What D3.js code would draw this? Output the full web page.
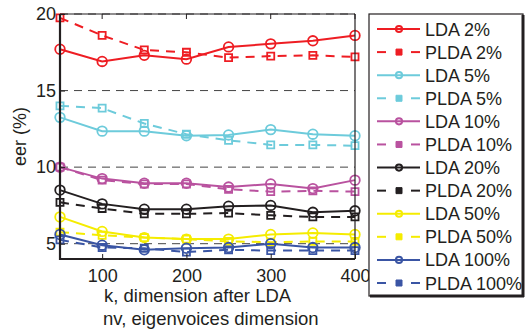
<!DOCTYPE html>
<html>
<head>
<meta charset="utf-8">
<script src="https://cdn.jsdelivr.net/npm/d3@7/dist/d3.min.js"></script>
<style>
  body { margin: 0; background: #fff; }
  svg text { font-family: "Liberation Sans", Arial, sans-serif; fill: #231f20; }
</style>
</head>
<body>
<svg id="chart" width="526" height="329"></svg>
<script>
// x values (k / nv)
const dims = [50, 100, 150, 200, 250, 300, 350, 400];

// eer (%) per series
const lda2 = [17.7, 16.9, 17.3, 17.05, 17.85, 18.05, 18.25, 18.6];
const plda2 = [19.75, 18.6, 17.65, 17.5, 17.15, 17.25, 17.3, 17.2];
const lda5 = [13.25, 12.35, 12.35, 12.05, 12.1, 12.45, 12.15, 12.05];
const plda5 = [14.0, 13.85, 12.85, 12.15, 11.75, 11.45, 11.45, 11.4];
const lda10 = [10.0, 9.25, 8.95, 8.95, 8.7, 8.9, 8.6, 9.15];
const plda10 = [10.0, 9.15, 8.9, 8.9, 8.55, 8.4, 8.45, 8.4];
const lda20 = [8.5, 7.6, 7.25, 7.25, 7.45, 7.5, 7.05, 7.15];
const plda20 = [7.7, 7.3, 6.95, 6.95, 7.0, 6.85, 6.75, 6.75];
const lda50 = [6.75, 5.8, 5.4, 5.3, 5.3, 5.6, 5.7, 5.6];
const plda50 = [5.75, 5.55, 5.4, 5.3, 5.15, 5.1, 5.15, 5.15];
const lda100 = [5.6, 4.9, 4.6, 4.7, 4.75, 5.0, 4.75, 4.75];
const plda100 = [5.25, 4.75, 4.7, 4.45, 4.6, 4.55, 4.55, 4.55];

const xTicks = [100, 200, 300, 400];
const yTicks = [5, 10, 15, 20];

const series = [
  { name: 'LDA 2%', values: lda2, color: '#ee1d23', dashed: false },
  { name: 'PLDA 2%', values: plda2, color: '#ee1d23', dashed: true },
  { name: 'LDA 5%', values: lda5, color: '#6dcbdb', dashed: false },
  { name: 'PLDA 5%', values: plda5, color: '#6dcbdb', dashed: true },
  { name: 'LDA 10%', values: lda10, color: '#b9529f', dashed: false },
  { name: 'PLDA 10%', values: plda10, color: '#b9529f', dashed: true },
  { name: 'LDA 20%', values: lda20, color: '#231f20', dashed: false },
  { name: 'PLDA 20%', values: plda20, color: '#231f20', dashed: true },
  { name: 'LDA 50%', values: lda50, color: '#f5ec00', dashed: false },
  { name: 'PLDA 50%', values: plda50, color: '#f5ec00', dashed: true },
  { name: 'LDA 100%', values: lda100, color: '#3a55a4', dashed: false },
  { name: 'PLDA 100%', values: plda100, color: '#3a55a4', dashed: true },
];

const svg = d3.select('#chart');
const mLeft = 60, mRight = 355, mTop = 14, mBottom = 259;

const x = d3.scaleLinear().domain([50, 400]).range([mLeft, mRight]);
const y = d3.scaleLinear().domain([4, 20]).range([mBottom, mTop]);

// dashed horizontal grid
svg.append('g')
  .selectAll('line')
  .data(yTicks)
  .join('line')
  .attr('x1', mLeft).attr('x2', mRight)
  .attr('y1', (d) => y(d)).attr('y2', (d) => y(d))
  .attr('stroke', '#444')
  .attr('stroke-width', 1)
  .attr('stroke-dasharray', '8,6');

// series lines + markers
const line = d3.line().x((d, i) => x(dims[i])).y((d) => y(d));

const plot = svg.append('g');
series.forEach((s) => {
  plot.append('path')
    .attr('d', line(s.values))
    .attr('fill', 'none')
    .attr('stroke', s.color)
    .attr('stroke-width', 2)
    .attr('stroke-dasharray', s.dashed ? '9,7' : null);

  const marks = plot.append('g').selectAll('path')
    .data(s.values)
    .join('path')
    .attr('transform', (d, i) => `translate(${x(dims[i])},${y(d)})`)
    .attr('fill', 'none')
    .attr('stroke', s.color)
    .attr('stroke-width', 1.8);
  if (s.dashed) {
    marks.attr('d', d3.symbol(d3.symbolSquare, 50));
  } else {
    marks.attr('d', d3.symbol(d3.symbolCircle, 72));
  }
});

// axes box
const xAxis = d3.axisBottom(x).tickValues(xTicks).tickSize(-5).tickPadding(10);
const yAxis = d3.axisLeft(y).tickValues(yTicks).tickSize(-5).tickPadding(4);

svg.append('g')
  .attr('transform', `translate(0,${mBottom})`)
  .call(xAxis)
  .call((g) => g.select('.domain').remove())
  .call((g) => g.selectAll('text').attr('font-size', 18).attr('fill', '#231f20')
    .attr('font-family', '"Liberation Sans", Arial, sans-serif'))
  .call((g) => g.selectAll('line').attr('stroke', '#231f20'));

svg.append('g')
  .attr('transform', `translate(${mLeft},0)`)
  .call(yAxis)
  .call((g) => g.select('.domain').remove())
  .call((g) => g.selectAll('text').attr('font-size', 18).attr('fill', '#231f20')
    .attr('font-family', '"Liberation Sans", Arial, sans-serif'))
  .call((g) => g.selectAll('line').attr('stroke', '#231f20'));

// top ticks
svg.append('g')
  .selectAll('line')
  .data(xTicks)
  .join('line')
  .attr('x1', (d) => x(d)).attr('x2', (d) => x(d))
  .attr('y1', mTop).attr('y2', mTop + 5)
  .attr('stroke', '#231f20');

svg.append('line').attr('x1', mLeft).attr('x2', mRight).attr('y1', mTop).attr('y2', mTop)
  .attr('stroke', '#231f20').attr('stroke-width', 1.2);
svg.append('line').attr('x1', mRight).attr('x2', mRight).attr('y1', mTop).attr('y2', mBottom)
  .attr('stroke', '#231f20').attr('stroke-width', 1.2);
svg.append('line').attr('x1', mLeft).attr('x2', mLeft).attr('y1', mTop).attr('y2', mBottom + 1)
  .attr('stroke', '#231f20').attr('stroke-width', 2.2);
svg.append('line').attr('x1', mLeft - 1).attr('x2', mRight).attr('y1', mBottom).attr('y2', mBottom)
  .attr('stroke', '#231f20').attr('stroke-width', 2.2);

// axis labels
svg.append('text')
  .attr('transform', `translate(26,${(mTop + mBottom) / 2}) rotate(-90)`)
  .attr('text-anchor', 'middle')
  .attr('font-size', 18)
  .text('eer (%)');

svg.append('text')
  .attr('x', 104).attr('y', 302)
  .attr('font-size', 18.5)
  .text('k, dimension after LDA');

svg.append('text')
  .attr('x', 103).attr('y', 325)
  .attr('font-size', 18.5)
  .text('nv, eigenvoices dimension');

// legend
const lg = svg.append('g');
lg.append('rect')
  .attr('x', 369).attr('y', 14).attr('width', 154).attr('height', 282)
  .attr('fill', '#fff').attr('stroke', '#231f20').attr('stroke-width', 1.2);
lg.append('line').attr('x1', 523).attr('x2', 523).attr('y1', 15).attr('y2', 297)
  .attr('stroke', '#231f20').attr('stroke-width', 3);
lg.append('line').attr('x1', 370).attr('x2', 524).attr('y1', 296).attr('y2', 296)
  .attr('stroke', '#231f20').attr('stroke-width', 3);

const rowY = d3.scalePoint().domain(series.map((s) => s.name)).range([29, 283]);

series.forEach((s) => {
  const yy = rowY(s.name);
  if (s.dashed) {
    lg.append('line').attr('x1', 377).attr('x2', 386).attr('y1', yy).attr('y2', yy)
      .attr('stroke', s.color).attr('stroke-width', 2);
    lg.append('line').attr('x1', 411).attr('x2', 420).attr('y1', yy).attr('y2', yy)
      .attr('stroke', s.color).attr('stroke-width', 2);
    lg.append('path')
      .attr('transform', `translate(399,${yy})`)
      .attr('d', d3.symbol(d3.symbolSquare, 36))
      .attr('fill', s.color).attr('stroke', s.color).attr('stroke-width', 1);
  } else {
    lg.append('line').attr('x1', 377).attr('x2', 420).attr('y1', yy).attr('y2', yy)
      .attr('stroke', s.color).attr('stroke-width', 2);
    lg.append('path')
      .attr('transform', `translate(399,${yy})`)
      .attr('d', d3.symbol(d3.symbolCircle, 30))
      .attr('fill', 'none').attr('stroke', s.color).attr('stroke-width', 2);
  }
  lg.append('text')
    .attr('x', 425).attr('y', yy + 6.5)
    .attr('font-size', 18)
    .text(s.name);
});
</script>
</body>
</html>
